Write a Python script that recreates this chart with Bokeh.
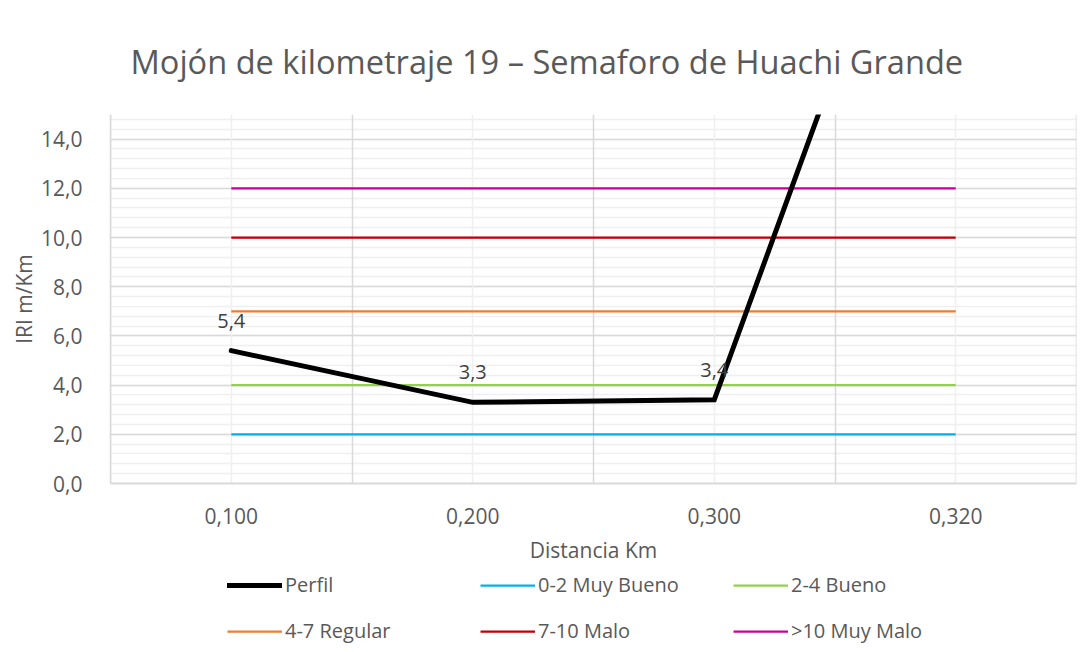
from bokeh.plotting import figure
from bokeh.layouts import column
from bokeh.models import Range1d, FixedTicker, Grid, Legend, LegendItem, ColumnDataSource
from bokeh.core.properties import value
from bokeh.embed import file_html
from bokeh.resources import INLINE

# ---- data ----
categories = ["0,100", "0,200", "0,300", "0,320"]
perfil = [5.4, 3.3, 3.4, 30.3]
umbral_names = ["0-2 Muy Bueno", "2-4 Bueno", "4-7 Regular", "7-10 Malo", ">10 Muy Malo"]
umbral_values = [2.0, 4.0, 7.0, 10.0, 12.0]
umbral_colors = ["#00B0F0", "#92D050", "#ED7D31", "#C00000", "#CC0099"]
y_ticks = [0, 2, 4, 6, 8, 10, 12, 14]
Y_MAX = 15

FONT = "Open Sans"
GREY = "#595959"

xs = list(range(1, len(categories) + 1))

p = figure(width=1077, height=566, output_backend="svg", toolbar_location=None,
           x_range=Range1d(0.5, len(categories) + 0.5), y_range=Range1d(0, Y_MAX),
           min_border_left=110, min_border_right=1, min_border_top=114, min_border_bottom=82)

p.title.text = "Mojón de kilometraje 19 – Semaforo de Huachi Grande"
p.title.text_font = FONT
p.title.text_font_size = "32.6px"
p.title.text_font_style = "normal"
p.title.text_color = GREY
p.title.align = "left"
p.title.offset = 20
p.title.standoff = 62

p.outline_line_color = None
p.background_fill_color = "white"
p.border_fill_color = "white"

# axes
p.xaxis.ticker = FixedTicker(ticks=xs)
p.xaxis.major_label_overrides = {x: c for x, c in zip(xs, categories)}
p.yaxis.ticker = FixedTicker(ticks=y_ticks)
p.yaxis.major_label_overrides = {t: f"{t:.1f}".replace(".", ",") for t in y_ticks}
for ax in (p.xaxis[0], p.yaxis[0]):
    ax.major_tick_line_color = None
    ax.minor_tick_line_color = None
    ax.major_label_text_font = FONT
    ax.major_label_text_font_size = "21px"
    ax.major_label_text_color = GREY
    ax.axis_label_text_font = FONT
    ax.axis_label_text_font_size = "21px"
    ax.axis_label_text_font_style = "normal"
    ax.axis_label_text_color = GREY
p.xaxis.axis_line_color = "#D9D9D9"
p.xaxis.axis_line_width = 2
p.yaxis.axis_line_color = "#D9D9D9"
p.yaxis.axis_line_width = 1.5
p.xaxis.axis_label = "Distancia Km"
p.yaxis.axis_label = "IRI m/Km"
p.xaxis.major_label_standoff = 18
p.yaxis.major_label_standoff = 22
p.xaxis.axis_label_standoff = 9
p.yaxis.axis_label_standoff = 0

# grids
p.xgrid.grid_line_color = None
p.ygrid.ticker = FixedTicker(ticks=y_ticks, minor_ticks=[i * 0.4 for i in range(0, 38)])
p.ygrid.grid_line_color = "#D9D9D9"
p.ygrid.grid_line_width = 1.5
p.ygrid.minor_grid_line_color = "#EFEFEF"
p.ygrid.minor_grid_line_width = 1.5

minor_x = Grid(dimension=0, ticker=FixedTicker(ticks=xs), grid_line_color="#EFEFEF", grid_line_width=1.5)
major_x = Grid(dimension=0, ticker=FixedTicker(ticks=[0.501, 1.5, 2.5, 3.5, 4.499]),
               grid_line_color="#D9D9D9", grid_line_width=1.5)
p.add_layout(minor_x)
p.add_layout(major_x)

# threshold lines
series = []
for name, v, c in zip(umbral_names, umbral_values, umbral_colors):
    src = ColumnDataSource(dict(x=xs, y=[v] * len(xs)))
    style = dict(line_color=c, line_width=2.25)
    p.line("x", "y", source=src, **style)
    series.append((name, src, style))

# profile
psrc = ColumnDataSource(dict(x=xs, y=perfil))
pstyle = dict(line_color="black", line_width=5, line_join="miter", line_cap="round")
p.line("x", "y", source=psrc, **pstyle)
series.insert(0, ("Perfil", psrc, pstyle))
vis = [(x, y) for x, y in zip(xs, perfil) if y <= Y_MAX]
lsrc = ColumnDataSource(dict(x=[v[0] for v in vis], y=[v[1] for v in vis],
                             lab=[f"{v[1]:.1f}".replace(".", ",") for v in vis]))
p.text("x", "y", text="lab", source=lsrc, text_font=value(FONT), text_font_size="20px",
       text_color="#404040", text_align="center", text_baseline="middle", y_offset=-30)

# legend strip (separate figure; its data lies outside its ranges, only the legend shows)
p2 = figure(width=1077, height=82, output_backend="svg", toolbar_location=None,
            x_axis_type=None, y_axis_type=None, x_range=Range1d(-20, -19), y_range=Range1d(-20, -19),
            min_border_left=110, min_border_right=1, min_border_top=0, min_border_bottom=0)
p2.outline_line_color = None
p2.grid.grid_line_color = None
items = []
for name, src, style in series:
    r = p2.line("x", "y", source=src, **style)
    items.append(LegendItem(label=name, renderers=[r]))
lg = Legend(items=items, location=(117, 4), orientation="horizontal", ncols=3, nrows=2,
            glyph_width=55, glyph_height=20, label_height=20, label_width=176,
            label_standoff=3, spacing=19,
            padding=0, margin=0, border_line_color=None, background_fill_alpha=0,
            label_text_font=FONT, label_text_font_size="20px", label_text_color=GREY)
p2.add_layout(lg)

layout = column(p, p2, spacing=0)
open("out.html", "w").write(file_html(layout, INLINE))
